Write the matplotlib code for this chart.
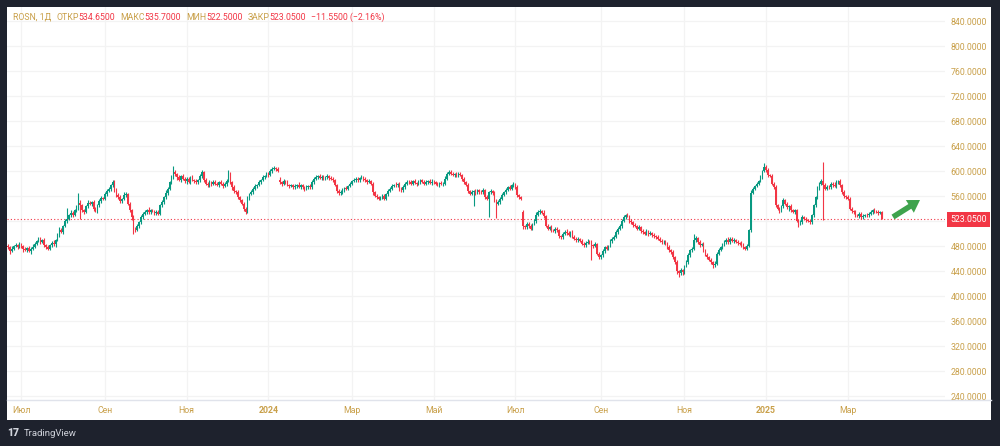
import matplotlib
matplotlib.use("Agg")
import matplotlib.pyplot as plt
import matplotlib.transforms as mtransforms
from matplotlib.patches import Rectangle, FancyArrow
from matplotlib.lines import Line2D
import pandas as pd

# Дневные закрытия ROSN (оценка по картинке), 22.06.2023 - 27.03.2025
closes = [
    478, 472, 476, 480, 482, 479, 483, 480, 475, 474,
    477, 472, 476, 479, 484, 488, 491, 487, 490, 482,
    478, 476, 481, 485, 483, 490, 498, 506, 503, 512,
    520, 524, 529, 533, 530, 537, 540, 549, 545, 537,
    535, 544, 549, 547, 550, 540, 536, 545, 552, 557,
    556, 563, 568, 571, 577, 582, 571, 562, 558, 552,
    555, 561, 563, 548, 538, 526, 509, 506, 512, 518,
    526, 532, 535, 538, 534, 537, 536, 533, 535, 532,
    545, 550, 558, 565, 572, 582, 590, 598, 595, 590,
    586, 592, 588, 584, 588, 583, 590, 586, 584, 582,
    585, 592, 598, 586, 580, 577, 582, 579, 583, 580,
    578, 582, 580, 576, 579, 584, 596, 582, 574, 568,
    566, 558, 553, 548, 540, 535, 556, 563, 566, 572,
    576, 578, 582, 586, 590, 592, 596, 594, 600, 603,
    605, 603, 600, 582, 580, 584, 582, 578, 576, 577,
    574, 576, 578, 575, 577, 574, 572, 575, 576, 574,
    582, 588, 590, 592, 589, 591, 588, 590, 592, 589,
    588, 585, 578, 568, 565, 566, 570, 573, 572, 576,
    580, 584, 586, 588, 585, 589, 590, 587, 585, 583,
    584, 580, 566, 560, 558, 556, 557, 560, 556, 563,
    568, 572, 576, 578, 577, 579, 572, 569, 574, 580,
    583, 582, 580, 584, 581, 579, 582, 585, 583, 580,
    582, 584, 581, 583, 582, 580, 578, 581, 579, 580,
    588, 596, 599, 596, 594, 595, 593, 596, 594, 588,
    582, 578, 568, 564, 566, 568, 565, 569, 567, 566,
    570, 558, 556, 566, 568, 565, 552, 548, 550, 556,
    562, 566, 570, 574, 572, 577, 579, 574, 562, 558,
    556, 512, 510, 516, 512, 508, 515, 520, 530, 534,
    536, 533, 528, 512, 508, 510, 506, 504, 508, 505,
    496, 494, 500, 503, 501, 498, 502, 495, 492, 489,
    491, 488, 484, 481, 485, 487, 486, 482, 480, 483,
    468, 462, 465, 472, 478, 476, 480, 488, 492, 495,
    502, 508, 512, 520, 526, 530, 528, 520, 518, 514,
    512, 508, 510, 504, 502, 500, 503, 499, 501, 498,
    496, 494, 492, 488, 486, 487, 484, 478, 474, 470,
    462, 455, 440, 437, 441, 438, 448, 455, 465, 474,
    476, 490, 493, 486, 482, 483, 474, 466, 462, 458,
    454, 450, 452, 468, 474, 478, 482, 487, 490, 486,
    492, 488, 490, 487, 485, 484, 482, 478, 476, 480,
    506, 565, 572, 576, 580, 584, 590, 600, 606, 602,
    594, 592, 580, 574, 545, 540, 536, 544, 554, 548,
    542, 544, 538, 535, 537, 520, 516, 519, 526, 524,
    522, 520, 518, 530, 545, 558, 572, 580, 584, 578,
    572, 575, 574, 580, 578, 576, 582, 584, 578, 566,
    560, 558, 556, 540, 536, 534, 530, 528, 532, 526,
    528, 530, 529, 532, 534, 538, 536, 535, 533, 534.6,
    523.05,
]

# верхние тени (над телом свечи)
wick_up = [
    3, 2, 4, 2, 3, 2, 4, 2, 2, 3,
    2, 3, 2, 4, 3, 2, 3, 4, 2, 3,
    2, 3, 2, 3, 4, 2, 3, 4, 3, 2,
    3, 17, 3, 4, 3, 2, 5, 16, 4, 3,
    3, 2, 4, 3, 2, 3, 2, 3, 4, 3,
    2, 4, 3, 3, 2, 4, 3, 2, 3, 3,
    2, 6, 3, 2, 3, 2, 3, 2, 3, 2,
    3, 2, 3, 2, 4, 2, 3, 2, 2, 3,
    2, 3, 2, 4, 3, 2, 4, 10, 3, 2,
    3, 2, 4, 3, 2, 3, 2, 4, 2, 3,
    2, 3, 4, 2, 3, 2, 3, 2, 2, 3,
    3, 2, 3, 2, 3, 3, 5, 3, 2, 3,
    2, 3, 2, 3, 2, 3, 4, 2, 3, 2,
    3, 2, 3, 2, 4, 2, 3, 2, 3, 3,
    3, 2, 3, 5, 2, 3, 2, 3, 2, 3,
    2, 3, 2, 4, 2, 3, 2, 3, 2, 3,
    3, 2, 4, 2, 3, 2, 3, 2, 3, 2,
    3, 2, 3, 2, 3, 4, 3, 2, 3, 2,
    3, 2, 3, 2, 3, 2, 4, 2, 3, 2,
    3, 2, 3, 2, 3, 2, 3, 4, 3, 2,
    3, 2, 3, 2, 4, 2, 3, 2, 3, 2,
    3, 2, 4, 2, 3, 2, 3, 2, 3, 2,
    3, 2, 3, 4, 3, 2, 3, 2, 3, 2,
    4, 3, 3, 2, 3, 2, 3, 2, 3, 2,
    3, 2, 3, 2, 4, 2, 3, 2, 3, 2,
    3, 2, 3, 2, 3, 2, 3, 4, 3, 2,
    3, 2, 3, 2, 3, 2, 3, 2, 4, 2,
    2, 3, 2, 3, 2, 3, 2, 3, 4, 3,
    3, 2, 4, 2, 3, 2, 3, 2, 3, 2,
    3, 2, 3, 2, 4, 3, 2, 3, 2, 3,
    3, 2, 3, 2, 3, 4, 2, 3, 2, 3,
    2, 3, 2, 3, 2, 3, 2, 4, 3, 2,
    3, 2, 4, 3, 3, 2, 3, 2, 3, 2,
    3, 2, 3, 2, 3, 2, 4, 2, 3, 2,
    3, 2, 3, 2, 3, 2, 3, 2, 3, 2,
    3, 2, 3, 2, 4, 3, 2, 3, 4, 2,
    3, 10, 3, 2, 3, 2, 4, 2, 3, 2,
    3, 2, 4, 2, 3, 2, 3, 2, 3, 4,
    3, 2, 3, 2, 3, 2, 4, 3, 2, 3,
    2, 4, 3, 2, 3, 2, 3, 2, 7, 4,
    3, 2, 4, 2, 3, 2, 3, 2, 3, 2,
    3, 2, 3, 2, 3, 2, 3, 2, 3, 2,
    3, 2, 3, 2, 3, 2, 4, 2, 3, 30,
    3, 2, 3, 2, 3, 4, 3, 2, 3, 2,
    3, 2, 3, 2, 3, 2, 3, 2, 3, 2,
    3, 2, 3, 2, 3, 2, 3, 2, 3, 2,
    1.05,
]

# нижние тени (под телом свечи)
wick_dn = [
    3, 4, 2, 3, 2, 3, 2, 3, 4, 2,
    3, 2, 4, 3, 2, 3, 2, 3, 2, 4,
    3, 2, 3, 2, 3, 4, 2, 3, 2, 3,
    2, 3, 3, 2, 3, 2, 3, 2, 22, 3,
    3, 2, 3, 2, 3, 4, 2, 3, 2, 3,
    3, 2, 3, 2, 3, 2, 4, 3, 2, 3,
    3, 2, 3, 2, 3, 4, 9, 3, 2, 3,
    2, 3, 2, 3, 2, 3, 2, 4, 3, 2,
    3, 2, 3, 2, 3, 2, 3, 2, 3, 4,
    2, 3, 2, 3, 4, 2, 3, 2, 3, 2,
    3, 2, 3, 4, 2, 3, 2, 3, 2, 3,
    2, 3, 2, 3, 2, 3, 2, 3, 4, 3,
    2, 3, 2, 3, 4, 3, 2, 3, 2, 3,
    2, 3, 2, 3, 2, 3, 2, 3, 2, 3,
    2, 3, 2, 3, 4, 2, 3, 2, 3, 2,
    3, 2, 3, 2, 3, 2, 4, 2, 3, 2,
    2, 3, 2, 3, 2, 3, 2, 3, 2, 3,
    2, 3, 2, 3, 4, 3, 2, 3, 2, 3,
    2, 3, 2, 3, 2, 3, 2, 3, 2, 3,
    2, 3, 4, 2, 3, 2, 3, 2, 3, 2,
    3, 2, 3, 2, 3, 2, 4, 3, 2, 3,
    2, 3, 2, 3, 2, 3, 2, 3, 2, 3,
    2, 3, 2, 3, 2, 3, 2, 3, 2, 3,
    2, 3, 2, 3, 2, 3, 2, 3, 2, 4,
    3, 2, 3, 2, 3, 22, 3, 2, 3, 2,
    3, 2, 3, 30, 2, 3, 2, 23, 3, 2,
    3, 2, 3, 2, 3, 2, 3, 2, 3, 2,
    3, 4, 3, 2, 3, 2, 3, 2, 3, 2,
    3, 2, 3, 2, 3, 2, 3, 2, 3, 2,
    3, 2, 3, 2, 3, 2, 3, 2, 2, 3,
    3, 2, 3, 2, 3, 2, 3, 24, 3, 2,
    3, 2, 3, 2, 3, 2, 3, 2, 3, 2,
    2, 3, 2, 3, 2, 3, 2, 3, 2, 3,
    2, 3, 2, 3, 2, 3, 2, 3, 2, 3,
    3, 2, 3, 2, 3, 2, 3, 2, 3, 2,
    3, 3, 4, 7, 3, 4, 3, 2, 3, 2,
    3, 2, 3, 2, 3, 2, 3, 2, 3, 2,
    3, 5, 3, 2, 3, 2, 3, 2, 3, 2,
    3, 2, 3, 2, 3, 2, 3, 2, 3, 2,
    2, 3, 2, 3, 2, 3, 2, 3, 2, 3,
    3, 2, 3, 2, 3, 2, 3, 2, 3, 2,
    3, 6, 3, 2, 3, 2, 6, 2, 3, 2,
    3, 2, 3, 2, 3, 2, 3, 2, 3, 57,
    3, 2, 3, 2, 3, 2, 3, 2, 3, 2,
    3, 2, 3, 2, 3, 2, 3, 2, 3, 2,
    3, 2, 3, 2, 3, 2, 3, 2, 3, 2,
    0.55,
]

# открытия с гэпом (остальные = предыдущее закрытие)
gap_opens = {143: 585, 271: 534, 460: 534.65}

price_ticks = list(range(240, 841, 40))
last_price = 523.05
month_ticks = [
    ("2023-07", "Июл"), ("2023-09", "Сен"), ("2023-11", "Ноя"), ("2024-01", "2024"),
    ("2024-03", "Мар"), ("2024-05", "Май"), ("2024-07", "Июл"), ("2024-09", "Сен"),
    ("2024-11", "Ноя"), ("2025-01", "2025"), ("2025-03", "Мар"),
]
header = [
    ("ROSN, 1Д", "gold"), ("ОТКР", "gold"), ("534.6500", "red"), ("МАКС", "gold"),
    ("535.7000", "red"), ("МИН", "gold"), ("522.5000", "red"), ("ЗАКР", "gold"),
    ("523.0500", "red"), ("−11.5500 (−2.16%)", "red"),
]

UP = "#089981"
DOWN = "#f23645"
GOLD = "#c9a04a"
BG = "#1e222d"
GRID = "#f3f3f3"

plt.rcParams["font.family"] = ["Roboto", "DejaVu Sans"]

W, H = 1000, 446
dates = pd.bdate_range("2023-06-22", periods=len(closes))

opens = [closes[0] + 2] + closes[:-1]
for k, v in gap_opens.items():
    opens[k] = v
highs = [max(o, c) + u for o, c, u in zip(opens, closes, wick_up)]
lows = [min(o, c) - d for o, c, d in zip(opens, closes, wick_dn)]
colors = [UP if c >= o else DOWN for o, c in zip(opens, closes)]
idx = list(range(len(closes)))

fig = plt.figure(figsize=(W / 100, H / 100), dpi=100, facecolor=BG)

# белая панель
fig.add_artist(Rectangle((7 / W, 1 - 420 / H), 984 / W, 413 / H,
                         transform=fig.transFigure, fc="white", ec="none", zorder=0))

ax = fig.add_axes([7 / W, 1 - 400 / H, 938 / W, 393 / H])
ax.set_facecolor("white")
ax.set_xlim((7 - 8) / 1.9, (945 - 8) / 1.9)
ax.set_ylim(840 - (400 - 21) * 1.6, 840 + (21 - 7) * 1.6)

ax.vlines(idx, lows, highs, colors=colors, linewidth=0.8, zorder=3)
bodies = [max(abs(c - o), 1.0) for o, c in zip(opens, closes)]
ax.bar(idx, bodies, bottom=[min(o, c) for o, c in zip(opens, closes)],
       width=0.8, color=colors, linewidth=0, zorder=3)

# сетка
tick_pos = []
for ym, lab in month_ticks:
    pos = int(((dates.strftime("%Y-%m") == ym)).argmax())
    tick_pos.append(pos)
for p in tick_pos:
    ax.axvline(p, color=GRID, lw=0.9, zorder=1)
for p in price_ticks:
    ax.axhline(p, color=GRID, lw=0.9, zorder=1)

ax.set_xticks(tick_pos)
ax.set_xticklabels([lab for _, lab in month_ticks])
for t, (_, lab) in zip(ax.get_xticklabels(), month_ticks):
    if lab.isdigit():
        t.set_fontweight("bold")
ax.tick_params(axis="x", length=0, pad=4.5, labelsize=6.3, labelcolor=GOLD)

# метка 520 закрыта плашкой текущей цены
ax.yaxis.tick_right()
ax.set_yticks(price_ticks)
ax.set_yticklabels(["" if abs(p - last_price) < 12 else f"{p:.4f}" for p in price_ticks])
ax.tick_params(axis="y", length=0, pad=4, labelsize=6.3, labelcolor=GOLD)

for s in ["top", "left", "right", "bottom"]:
    ax.spines[s].set_visible(False)
fig.add_artist(Line2D([7 / W, 991 / W], [1 - 400 / H, 1 - 400 / H],
                      transform=fig.transFigure, color="#e0e3eb", lw=1))

# линия текущей цены и метка
ax.axhline(last_price, color=DOWN, lw=0.8, ls=(0, (1, 2)), zorder=2)
trans = mtransforms.blended_transform_factory(ax.transAxes, ax.transData)
ax.text(1.0 + 5 / 938, last_price, f"{last_price:.4f}", transform=trans,
        ha="left", va="center", color="white", fontsize=6.3,
        bbox=dict(boxstyle="square,pad=0.35", fc=DOWN, ec="none"), clip_on=False)

# заголовок
cmap = {"gold": GOLD, "red": DOWN}
prev = fig.text(13 / W, 1 - 17 / H, header[0][0], color=cmap[header[0][1]],
                fontsize=6.3, va="center")
gaps = [3.5, 0, 3.5, 0, 3.5, 0, 3.5, 0, 3.5]
for (txt, c), g in zip(header[1:], gaps):
    prev = fig.add_artist(plt.Annotation(txt, xy=(1, 0), xycoords=prev,
                                         xytext=(g, 0), textcoords="offset points",
                                         color=cmap[c], fontsize=6.3, va="bottom"))

# зелёная стрелка
fig.add_artist(FancyArrow(8.93, (H - 217) / 100, 0.27, 0.17, width=0.055,
                          head_width=0.15, head_length=0.12, length_includes_head=True,
                          transform=fig.dpi_scale_trans, color="#3fa34d", lw=0))

# логотип TradingView
fig.text(7 / W, 1 - 433 / H, "17", color="#d1d4dc", fontsize=7.5,
         fontweight="heavy", va="center")
fig.text(24 / W, 1 - 433 / H, "TradingView", color="#d1d4dc", fontsize=6.8,
         va="center")

fig.savefig("out.png", dpi=100, facecolor=BG)
